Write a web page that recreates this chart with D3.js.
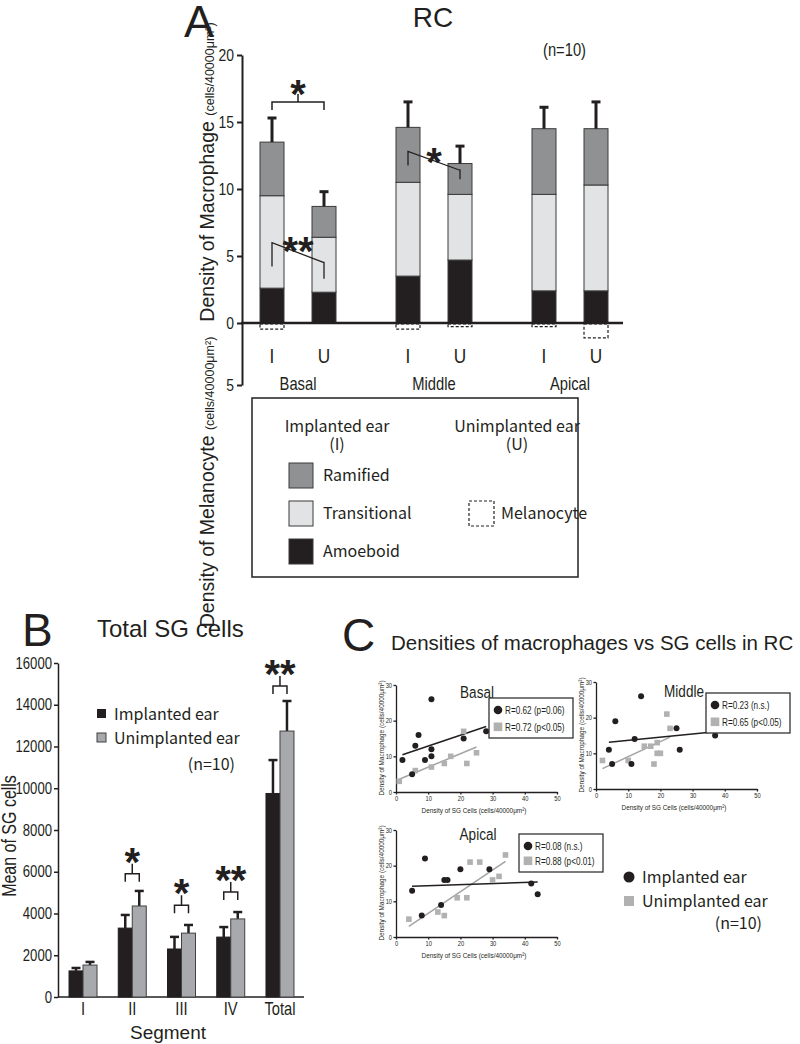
<!DOCTYPE html>
<html><head><meta charset="utf-8">
<script src="https://cdn.jsdelivr.net/npm/d3@7"></script>
<style>html,body{margin:0;padding:0;background:#fff;}</style>
</head><body>
<svg id="fig" width="800" height="1044" xmlns="http://www.w3.org/2000/svg"></svg>
<script>
// ================= DATA =================
// Panel A : macrophage density (stacked) per segment / ear, melanocyte density below 0
const segmentsA = ["Basal", "Middle", "Apical"];
const earsA = ["I", "U"];
const barSegment = ["Basal", "Basal", "Middle", "Middle", "Apical", "Apical"];
const barEar = ["I", "U", "I", "U", "I", "U"];
const amoeboid = [2.6, 2.3, 3.5, 4.7, 2.4, 2.4];
const transitional = [6.9, 4.1, 7.0, 4.9, 7.2, 7.9];
const ramified = [4.0, 2.3, 4.1, 2.3, 4.9, 4.2];
const macroSEM = [1.8, 1.1, 1.9, 1.3, 1.6, 2.0];
const melanocyte = [0.5, 0, 0.5, 0.3, 0.3, 1.2];
const yTicksMacro = [0, 5, 10, 15, 20];
const yTicksMel = [5];

// Panel B : mean of SG cells
const segmentsB = ["I", "II", "III", "IV", "Total"];
const implantedSG = [1250, 3300, 2300, 2870, 9750];
const unimplantedSG = [1530, 4360, 3060, 3740, 12740];
const implantedSGsem = [140, 630, 580, 480, 1600];
const unimplantedSGsem = [150, 720, 390, 330, 1440];
const yTicksB = [0, 2000, 4000, 6000, 8000, 10000, 12000, 14000, 16000];
const sigB = ["", "*", "*", "**", "**"];
const sigBLevel = [0, 5900, 4400, 5030, 14900];

// Panel C : macrophages vs SG cells
const xTicksC = [0, 10, 20, 30, 40, 50];
const yTicksC = [0, 10, 20, 30];
const basalImplX = [2, 11, 7, 6, 9, 11, 11, 5, 21, 28];
const basalImplY = [9, 26, 16, 13, 9, 12, 10, 5, 15, 17];
const basalUnX = [1, 6, 11, 15, 17, 21, 22, 25];
const basalUnY = [3, 6, 7, 8, 10, 17, 8, 11];
const middleImplX = [4, 6, 5, 11, 12, 14, 25, 26, 37];
const middleImplY = [11, 19, 7, 7, 14, 26, 17, 11, 15];
const middleUnX = [2, 10, 15, 17, 19, 19, 20, 18, 22, 23];
const middleUnY = [8, 8, 12, 12, 13, 10, 10, 7, 21, 17];
const apicalImplX = [5, 9, 8, 14, 15, 16, 20, 29, 42, 44];
const apicalImplY = [13, 22, 6, 9, 16, 16, 19, 19, 15, 12];
const apicalUnX = [4, 13, 15, 19, 22, 23, 26, 30, 32, 34];
const apicalUnY = [5, 7, 6, 11, 11, 21, 21, 16, 17, 23];
const statsImpl = ["R=0.62 (p=0.06)", "R=0.23 (n.s.)", "R=0.08 (n.s.)"];
const statsUn = ["R=0.72 (p<0.05)", "R=0.65 (p<0.05)", "R=0.88 (p<0.01)"];

// ================= STYLE =================
const NARROW = "NARROW";           // emulated Helvetica Narrow (Liberation Sans compressed)
const NARROW_FACE = "'Liberation Sans',Arial,Helvetica,sans-serif";
const SQ = 0.82;
const SANS = "'Liberation Sans',Arial,Helvetica,sans-serif";
const JP = "'Noto Sans CJK JP','Noto Sans',sans-serif";
const INK = "#231f20";
const C_RAM = "#909193", C_TRANS = "#e2e3e4", C_AMO = "#231f20";
const C_GRAYBAR = "#a7a9ac";
const C_GRAYPT = "#b1b1b1";

const svg = d3.select("#fig");
svg.append("rect").attr("width", 800).attr("height", 1044).attr("fill", "#fff");

function txt(g, x, y, s, size, family, anchor) {
  const t = g.append("text").text(s).attr("font-size", size)
    .attr("text-anchor", anchor || "start").attr("fill", INK);
  if (family === NARROW) {
    t.attr("font-family", NARROW_FACE).attr("transform", `translate(${x},${y}) scale(${SQ},1)`);
  } else {
    t.attr("font-family", family).attr("x", x).attr("y", y);
  }
  return t;
}
function star(g, cx, cy, s, size) {
  return g.append("text").attr("x", cx).attr("y", cy + size * 0.6).text(s)
    .attr("font-size", size).attr("font-family", SANS).attr("font-weight", "bold")
    .attr("text-anchor", "middle").attr("fill", INK);
}
function styleAxis(sel, family, size, sw) {
  sel.selectAll("path.domain").attr("stroke", INK).attr("stroke-width", sw);
  sel.selectAll(".tick line").attr("stroke", INK).attr("stroke-width", sw);
  const tt = sel.selectAll(".tick text").attr("font-size", size).attr("fill", INK);
  if (family === NARROW) {
    tt.attr("font-family", NARROW_FACE).each(function () {
      const x = +this.getAttribute("x") || 0;
      this.setAttribute("x", x / SQ);
      this.setAttribute("transform", `scale(${SQ},1)`);
    });
  } else tt.attr("font-family", family);
}
const fmtInt = d3.format("d");

// ================= PANEL A =================
const gA = svg.append("g");
const xSegA = d3.scaleBand().domain(segmentsA).range([230, 638]);
const xEarA = d3.scalePoint().domain(earsA).range([42, 94]);
const yA = d3.scaleLinear().domain([0, 20]).range([323, 55]);
const yMel = d3.scaleLinear().domain([0, 5]).range([323, 385]);
const bwA = 24;
const cxA = i => xSegA(barSegment[i]) + xEarA(barEar[i]);

txt(gA, 184, 37, "A", 45, SANS);
txt(gA, 433, 27, "RC", 28, SANS, "middle");
txt(gA, 543, 56, "(n=10)", 18, NARROW);

// stacked bars
const rowsA = barSegment.map((s, i) => ({ i, amoeboid: amoeboid[i], transitional: transitional[i], ramified: ramified[i] }));
const stackA = d3.stack().keys(["amoeboid", "transitional", "ramified"])(rowsA);
const fillA = { amoeboid: C_AMO, transitional: C_TRANS, ramified: C_RAM };
stackA.forEach(layer => {
  gA.append("g").selectAll("rect").data(layer).join("rect")
    .attr("x", d => cxA(d.data.i) - bwA / 2)
    .attr("width", bwA)
    .attr("y", d => yA(d[1]))
    .attr("height", d => yA(d[0]) - yA(d[1]))
    .attr("fill", fillA[layer.key])
    .attr("stroke", "#3a3a3a").attr("stroke-width", 1);
});
// error bars
rowsA.forEach((r, i) => {
  const tot = amoeboid[i] + transitional[i] + ramified[i];
  const c = cxA(i);
  gA.append("line").attr("x1", c).attr("x2", c).attr("y1", yA(tot)).attr("y2", yA(tot + macroSEM[i]))
    .attr("stroke", INK).attr("stroke-width", 3);
  gA.append("line").attr("x1", c - 4.5).attr("x2", c + 4.5).attr("y1", yA(tot + macroSEM[i])).attr("y2", yA(tot + macroSEM[i]))
    .attr("stroke", INK).attr("stroke-width", 3);
});
// melanocyte dashed boxes
melanocyte.forEach((v, i) => {
  if (v <= 0) return;
  gA.append("rect").attr("x", cxA(i) - bwA / 2).attr("width", bwA)
    .attr("y", yMel(0) + 1).attr("height", yMel(v) - yMel(0) - 1)
    .attr("fill", "none").attr("stroke", INK).attr("stroke-width", 1.2).attr("stroke-dasharray", "3,2");
});
// axes
const axA = gA.append("g").attr("transform", "translate(242,0)")
  .call(d3.axisLeft(yA).tickValues(yTicksMacro).tickFormat(fmtInt).tickSize(5).tickSizeOuter(0).tickPadding(3));
styleAxis(axA, NARROW, 17, 2);
const axMel = gA.append("g").attr("transform", "translate(242,0)")
  .call(d3.axisLeft(yMel).tickValues(yTicksMel).tickFormat(fmtInt).tickSize(5).tickSizeOuter(0).tickPadding(3));
styleAxis(axMel, NARROW, 17, 2);
gA.append("line").attr("x1", 241).attr("x2", 623).attr("y1", yA(0)).attr("y2", yA(0))
  .attr("stroke", INK).attr("stroke-width", 2.5);

// category labels
barEar.forEach((e, i) => txt(gA, cxA(i), 363, e, 21, NARROW, "middle"));
segmentsA.forEach(s => txt(gA, xSegA(s) + xSegA.bandwidth() / 2, 390, s, 18, NARROW, "middle"));

// y labels (rotated)
function rotLabel(g, x, y, main, unit, sMain, sUnit, family) {
  const narrow = family === NARROW;
  const t = g.append("text")
    .attr("transform", `translate(${x},${y}) rotate(-90)` + (narrow ? ` scale(${SQ},1)` : ""))
    .attr("text-anchor", "middle").attr("font-family", narrow ? NARROW_FACE : family).attr("fill", INK);
  t.append("tspan").attr("font-size", sMain).text(main);
  if (unit) t.append("tspan").attr("font-size", sUnit).text(unit);
  return t;
}
rotLabel(gA, 214, 172, "Density of Macrophage ", "(cells/40000μm²)", 19.5, 12.5, SANS);
rotLabel(gA, 214, 482, "Density of Melanocyte ", "(cells/40000μm²)", 19.5, 12.5, SANS);

// significance
function cxSeg(seg, ear) { return xSegA(seg) + xEarA(ear); }
(function () {
  const l = cxSeg("Basal", "I"), r = cxSeg("Basal", "U"), yb = yA(16.5);
  gA.append("path").attr("d", `M${l},${yb + 8}V${yb}H${r}V${yb + 8}M${(l + r) / 2},${yb}V${yb - 8}`)
    .attr("fill", "none").attr("stroke", INK).attr("stroke-width", 1.5);
  star(gA, (l + r) / 2, yb - 18, "*", 40);
})();
function diag(seg, v1, v2, s, starDx, starY) {
  const l = cxSeg(seg, "I"), r = cxSeg(seg, "U");
  const y1 = yA(v1), y2 = yA(v2);
  gA.append("path").attr("d", `M${l},${y1 + (seg === "Basal" ? 24 : 14)}V${y1}L${r},${y2}M${r},${y2 - 1}V${y2 + (seg === "Basal" ? 16 : 9)}`)
    .attr("fill", "none").attr("stroke", INK).attr("stroke-width", 1.3);
  star(gA, (l + r) / 2 + starDx, starY, s, 40);
}
diag("Basal", 6.0, 4.5, "**", 0, 241);
diag("Middle", 12.8, 11.4, "*", 0, 152);

// legend A
gA.append("rect").attr("x", 252).attr("y", 398).attr("width", 326).attr("height", 179)
  .attr("fill", "none").attr("stroke", INK).attr("stroke-width", 1.5);
txt(gA, 337, 432, "Implanted ear", 16, JP, "middle");
txt(gA, 337, 450, "(I)", 16, JP, "middle");
txt(gA, 517, 432, "Unimplanted ear", 16, JP, "middle");
txt(gA, 517, 450, "(U)", 16, JP, "middle");
const legA = [["Ramified", C_RAM, 463], ["Transitional", C_TRANS, 501], ["Amoeboid", C_AMO, 539]];
legA.forEach(([n, c, y]) => {
  gA.append("rect").attr("x", 289).attr("y", y).attr("width", 24).attr("height", 25)
    .attr("fill", c).attr("stroke", "#3a3a3a").attr("stroke-width", 1);
  txt(gA, 323, y + 18, n, 16, JP);
});
gA.append("rect").attr("x", 469).attr("y", 501).attr("width", 25).attr("height", 25)
  .attr("fill", "none").attr("stroke", INK).attr("stroke-width", 1.2).attr("stroke-dasharray", "3,2");
txt(gA, 501, 519, "Melanocyte", 16, JP);

// ================= PANEL B =================
const gB = svg.append("g");
const xB = d3.scaleBand().domain(segmentsB).range([58.4, 304.6]);
const yB = d3.scaleLinear().domain([0, 16000]).range([997, 663]);
const bwB = 14;
const cB = s => xB(s) + xB.bandwidth() / 2;

txt(gB, 22, 646, "B", 46, SANS);
txt(gB, 97, 637, "Total SG cells", 24, SANS);

const axB = gB.append("g").attr("transform", "translate(58,0)")
  .call(d3.axisLeft(yB).tickValues(yTicksB).tickFormat(fmtInt).tickSize(4).tickSizeOuter(0).tickPadding(2));
styleAxis(axB, NARROW, 16, 1.5);
gB.append("line").attr("x1", 58).attr("x2", 304).attr("y1", yB(0)).attr("y2", yB(0))
  .attr("stroke", INK).attr("stroke-width", 1.5);

function barsB(vals, sems, offset, fill, stroke) {
  segmentsB.forEach((s, i) => {
    const x0 = cB(s) + offset;
    const c = x0 + bwB / 2;
    gB.append("line").attr("x1", c).attr("x2", c).attr("y1", yB(vals[i])).attr("y2", yB(vals[i] + sems[i]))
      .attr("stroke", INK).attr("stroke-width", 2.5);
    gB.append("line").attr("x1", c - 4.5).attr("x2", c + 4.5).attr("y1", yB(vals[i] + sems[i])).attr("y2", yB(vals[i] + sems[i]))
      .attr("stroke", INK).attr("stroke-width", 2.5);
    gB.append("rect").attr("x", x0).attr("width", bwB).attr("y", yB(vals[i])).attr("height", yB(0) - yB(vals[i]))
      .attr("fill", fill).attr("stroke", stroke).attr("stroke-width", 1);
  });
}
barsB(implantedSG, implantedSGsem, -bwB, INK, INK);
barsB(unimplantedSG, unimplantedSGsem, 0, C_GRAYBAR, "#414042");

segmentsB.forEach((s, i) => {
  txt(gB, cB(s), 1015, s, 18, NARROW, "middle");
  if (!sigB[i]) return;
  const l = cB(s) - bwB / 2, r = cB(s) + bwB / 2, yb = yB(sigBLevel[i]);
  gB.append("path").attr("d", `M${l},${yb + 8}V${yb}H${r}V${yb + 8}M${(l + r) / 2},${yb}V${yb - 10}`)
    .attr("fill", "none").attr("stroke", INK).attr("stroke-width", 1.5);
  star(gB, (l + r) / 2, yb - 22, sigB[i], 40);
});
txt(gB, 168, 1039, "Segment", 19, SANS, "middle");
rotLabel(gB, 16, 836, "Mean of SG cells", null, 19.5, 0, NARROW);

gB.append("rect").attr("x", 97).attr("y", 709).attr("width", 9).attr("height", 9).attr("fill", INK);
txt(gB, 114, 720, "Implanted ear", 16, JP);
gB.append("rect").attr("x", 97).attr("y", 733).attr("width", 9).attr("height", 9).attr("fill", C_GRAYBAR)
  .attr("stroke", "#414042").attr("stroke-width", 1);
txt(gB, 114, 744, "Unimplanted ear", 16, JP);
txt(gB, 235, 770, "(n=10)", 16, JP, "end");

// ================= PANEL C =================
const gC = svg.append("g");
txt(gC, 342, 651, "C", 46, SANS);
txt(gC, 391, 650, "Densities of macrophages vs SG cells in RC", 20.5, SANS);

function linreg(xs, ys) {
  const mx = d3.mean(xs), my = d3.mean(ys);
  const sxy = d3.sum(xs, (x, i) => (x - mx) * (ys[i] - my));
  const sxx = d3.sum(xs, x => (x - mx) * (x - mx));
  const b = sxy / sxx;
  return x => my + b * (x - mx);
}

function scatter(cfg, k) {
  const g = gC.append("g");
  const x = d3.scaleLinear().domain([0, 50]).range([cfg.ox, cfg.ox + 161]);
  const y = d3.scaleLinear().domain([0, 30]).range([cfg.oy, cfg.oy - 107]);
  const ax = g.append("g").attr("transform", `translate(0,${cfg.oy})`)
    .call(d3.axisBottom(x).tickValues(xTicksC).tickSize(2.5).tickSizeOuter(0).tickPadding(1.5));
  styleAxis(ax, NARROW, 7, 1.3);
  const ay = g.append("g").attr("transform", `translate(${cfg.ox},0)`)
    .call(d3.axisLeft(y).tickValues(yTicksC).tickSize(2.5).tickSizeOuter(0).tickPadding(1.5));
  styleAxis(ay, NARROW, 7, 1.3);
  txt(g, cfg.ox + 78, cfg.oy + 21, "Density of SG Cells (cells/40000μm²)", 7.8, NARROW, "middle");
  rotLabel(g, cfg.ox - 12, cfg.oy - 54, "Density of Macrophage (cells/40000μm²)", null, 7.8, 0, NARROW);

  // regression lines
  const fi = linreg(cfg.ix, cfg.iy), fu = linreg(cfg.ux, cfg.uy);
  const ex = d3.extent(cfg.ix), eu = d3.extent(cfg.ux);
  g.append("line").attr("x1", x(eu[0])).attr("x2", x(eu[1])).attr("y1", y(fu(eu[0]))).attr("y2", y(fu(eu[1])))
    .attr("stroke", "#a3a3a3").attr("stroke-width", 1.5);
  g.append("line").attr("x1", x(ex[0])).attr("x2", x(ex[1])).attr("y1", y(fi(ex[0]))).attr("y2", y(fi(ex[1])))
    .attr("stroke", INK).attr("stroke-width", 1.5);
  // points
  g.append("g").selectAll("rect").data(cfg.ux.map((v, i) => [v, cfg.uy[i]])).join("rect")
    .attr("x", d => x(d[0]) - 2.8).attr("y", d => y(d[1]) - 2.8).attr("width", 5.6).attr("height", 5.6)
    .attr("fill", C_GRAYPT);
  g.append("g").selectAll("circle").data(cfg.ix.map((v, i) => [v, cfg.iy[i]])).join("circle")
    .attr("cx", d => x(d[0])).attr("cy", d => y(d[1])).attr("r", 3).attr("fill", INK);

  // title
  txt(g, cfg.ox + cfg.tx, cfg.oy + cfg.ty, cfg.title, 16.5, NARROW, "middle");
  // legend
  const bx = cfg.ox + cfg.lx, by = cfg.oy + cfg.ly;
  g.append("rect").attr("x", bx).attr("y", by).attr("width", 84).attr("height", cfg.lh)
    .attr("fill", "#fff").attr("stroke", "#333").attr("stroke-width", 1.3);
  g.append("circle").attr("cx", bx + 9).attr("cy", by + 12).attr("r", 4.3).attr("fill", INK);
  g.append("rect").attr("x", bx + 4.7).attr("y", by + cfg.lh - 15.5).attr("width", 8.6).attr("height", 8.6).attr("fill", C_GRAYPT);
  txt(g, bx + 16, by + 15.5, statsImpl[k], 10, NARROW);
  txt(g, bx + 16, by + cfg.lh - 7.5, statsUn[k], 10, NARROW);
}

scatter({ ox: 396, oy: 792, ix: basalImplX, iy: basalImplY, ux: basalUnX, uy: basalUnY,
  title: "Basal", tx: 81, ty: -94, lx: 93, ly: -94, lh: 40 }, 0);
scatter({ ox: 596, oy: 789, ix: middleImplX, iy: middleImplY, ux: middleUnX, uy: middleUnY,
  title: "Middle", tx: 88, ty: -92, lx: 110, ly: -96, lh: 40 }, 1);
scatter({ ox: 396, oy: 937, ix: apicalImplX, iy: apicalImplY, ux: apicalUnX, uy: apicalUnY,
  title: "Apical", tx: 82, ty: -97, lx: 123, ly: -103, lh: 38 }, 2);

// big legend C
gC.append("circle").attr("cx", 629).attr("cy", 877).attr("r", 5.5).attr("fill", INK);
txt(gC, 642, 883, "Implanted ear", 16, JP);
gC.append("rect").attr("x", 624).attr("y", 896).attr("width", 10).attr("height", 10).attr("fill", C_GRAYPT);
txt(gC, 642, 907, "Unimplanted ear", 16, JP);
txt(gC, 762, 929, "(n=10)", 16, JP, "end");
</script>
</body></html>
